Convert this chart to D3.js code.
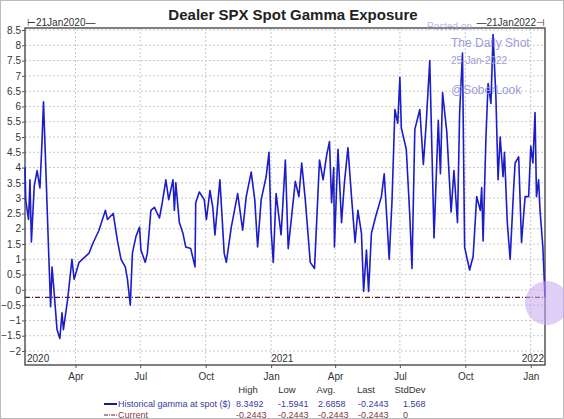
<!DOCTYPE html>
<html><head><meta charset="utf-8">
<script src="https://cdn.jsdelivr.net/npm/d3@7"></script>
<style>body{margin:0;background:#fff}svg{font-family:Arial,"Liberation Sans",sans-serif}</style>
</head><body>
<svg id="c" width="564" height="419"></svg>
<script>
const startDate = "2020-01-21";
const dayOffsets = [0,1,5,7,9,13,17,21,24,26,29,33,36,38,41,45,49,52,54,60,66,69,76,90,95,104,113,116,124,130,135,141,144,148,151,156,161,163,169,172,177,182,189,193,198,202,208,210,212,217,222,226,233,239,240,245,
252,255,260,264,267,274,280,283,290,299,306,311,318,323,327,332,339,343,346,349,353,360,366,370,380,385,389,394,401,407,414,419,424,428,431,434,435,440,445,449,454,459,464,468,473,476,480,483,487,493,501,505,
512,516,520,524,527,529,536,541,544,548,555,560,564,569,575,581,584,587,593,599,603,608,611,615,618,625,630,635,640,642,644,648,651,655,658,662,665,668,672,674,678,682,687,689,694,698,703,708,711,714,717,719,722,724,728,731];
const gammaValues = [4.0,2.94,2.3,3.6,1.57,3.4,3.9,3.33,4.9,6.15,4.15,1.4,-0.55,0.75,-0.1,-1.3,-1.59,-0.75,-1.3,-0.3,1.0,0.35,0.9,1.2,1.5,1.95,2.6,2.3,2.5,1.6,1.0,0.75,0.35,-0.5,1.2,1.75,2.05,1.3,0.9,1.2,2.6,2.7,2.35,2.85,3.6,2.95,3.6,2.6,3.5,2.2,1.85,1.4,1.35,0.75,2.85,3.2,
2.95,2.3,3.25,2.7,1.8,3.6,1.2,0.9,2.05,3.15,1.95,3.05,3.85,2.95,1.4,2.95,3.7,4.5,1.95,0.9,3.15,1.8,4.25,1.35,3.55,3.05,4.15,2.95,0.9,0.7,4.25,3.6,4.4,4.85,2.85,4.0,1.4,4.6,2.2,3.5,4.65,3.05,1.55,2.6,1.85,-0.05,1.3,-0.05,1.85,2.4,3.05,3.8,
1.0,2.95,5.9,5.45,6.95,5.3,4.6,2.4,0.7,5.25,5.9,4.1,5.45,7.5,1.7,5.55,3.8,6.45,5.15,2.55,3.9,2.2,5.8,7.75,1.4,0.65,1.1,3.05,2.6,3.35,1.6,5.0,6.75,6.1,8.35,6.3,3.6,5.0,3.7,4.5,2.2,1.0,3.35,4.15,4.35,1.55,3.05,3.05,4.7,4.15,5.8,3.05,3.6,2.6,1.4,-0.2443];
const currentValue = -0.2443;
const yTicks = [8.5,8,7.5,7,6.5,6,5.5,5,4.5,4,3.5,3,2.5,2,1.5,1,0.5,0,-0.5,-1,-1.5,-2];
const monthTicks = ["2020-04-01","2020-07-01","2020-10-01","2021-01-01","2021-04-01","2021-07-01","2021-10-01","2022-01-01"];
const monthLabels = ["Apr","Jul","Oct","Jan","Apr","Jul","Oct","Jan"];
const statHeaders = ["High","Low","Avg.","Last","StdDev"];
const statsHist = ["8.3492","-1.5941","2.6858","-0.2443","1.568"];
const statsCur = ["-0.2443","-0.2443","-0.2443","-0.2443","0"];

const svg = d3.select("#c");
const s0 = d3.isoParse(startDate);
const data = dayOffsets.map((d,i)=>({date:d3.timeDay.offset(s0,d), v:gammaValues[i]}));
const L=25,R=545,T=28,B=365;
const x = d3.scaleTime().domain([s0, d3.timeDay.offset(s0,731)]).range([L,R]);
const y = d3.scaleLinear().domain([-2,8.5]).range([351,30]);

svg.append("rect").attr("x",0.5).attr("y",0.5).attr("width",563).attr("height",418).attr("fill","#fff").attr("stroke","#bbb");
const mt = monthTicks.map(d3.isoParse);
svg.append("g").selectAll("line").data(mt).join("line")
  .attr("x1",d=>x(d)).attr("x2",d=>x(d)).attr("y1",T).attr("y2",B)
  .attr("stroke","#c8c8c8").attr("stroke-dasharray","2,2");
svg.append("g").selectAll("line").data(yTicks).join("line")
  .attr("x1",L).attr("x2",R).attr("y1",d=>y(d)).attr("y2",d=>y(d))
  .attr("stroke","#c8c8c8").attr("stroke-dasharray","2,2");
svg.append("rect").attr("x",L).attr("y",T).attr("width",R-L).attr("height",B-T).attr("fill","none").attr("stroke","#555").attr("stroke-width",1.5);

const ya = svg.append("g").attr("transform",`translate(${L},0)`).call(d3.axisLeft(y).tickValues(yTicks).tickSize(3).tickFormat(d3.format("")));
ya.select(".domain").remove();
ya.selectAll("text").attr("font-size",10).attr("fill","#333").attr("dx",2);
ya.selectAll("line").attr("stroke","#555");
const xa = svg.append("g").attr("transform",`translate(0,${B})`).call(d3.axisBottom(x).tickValues(mt).tickSize(3).tickFormat((d,i)=>monthLabels[i]));
xa.select(".domain").remove();
xa.selectAll("text").attr("font-size",10).attr("fill","#333").attr("dy","0.9em");
xa.selectAll("line").attr("stroke","#555");
svg.append("text").attr("x",L+2).attr("y",B-3).attr("font-size",10).attr("fill","#333").text("2020");
svg.append("text").attr("x",x(d3.isoParse("2021-01-01"))).attr("y",B-3).attr("font-size",10).attr("fill","#333").text("2021");
svg.append("text").attr("x",R-1).attr("y",B-3).attr("text-anchor","end").attr("font-size",10).attr("fill","#333").text("2022");

svg.append("line").attr("x1",L).attr("x2",R).attr("y1",y(currentValue)).attr("y2",y(currentValue))
  .attr("stroke","#5a2020").attr("stroke-width",1.2).attr("stroke-dasharray","5,2,1,2");
svg.append("path").datum(data).attr("fill","none").attr("stroke","#1c1cc8").attr("stroke-width",1.6).attr("stroke-linejoin","round")
  .attr("d",d3.line().x(d=>x(d.date)).y(d=>y(d.v)));

svg.append("text").attr("x",293).attr("y",20).attr("text-anchor","middle").attr("font-size",15).attr("font-weight","bold").attr("fill","#222").text("Dealer SPX Spot Gamma Exposure");
svg.append("text").attr("x",27).attr("y",26).attr("font-size",10).attr("fill","#333").text("⊢21Jan2020—");
svg.append("text").attr("x",545).attr("y",26).attr("text-anchor","end").attr("font-size",10).attr("fill","#333").text("—21Jan2022⊣");

const wm = svg.append("g").attr("fill","#9c9cd8");
wm.append("text").attr("x",427).attr("y",30).attr("font-size",10).attr("opacity",0.7).text("Posted on");
wm.append("text").attr("x",451).attr("y",47).attr("font-size",12).text("The Daily Shot");
wm.append("text").attr("x",451).attr("y",64).attr("font-size",10).text("25-Jan-2022");
wm.append("text").attr("x",451).attr("y",94).attr("font-size",12).text("@SoberLook");
svg.append("circle").attr("cx",547).attr("cy",303).attr("r",22).attr("fill","#c9a6ee").attr("opacity",0.55);

const cols=[248,287,326,366,410];
statHeaders.forEach((h,i)=>svg.append("text").attr("x",cols[i]).attr("y",393).attr("text-anchor","middle").attr("font-size",9.5).attr("fill","#333").text(h));
svg.append("line").attr("x1",104).attr("x2",117).attr("y1",404).attr("y2",404).attr("stroke","#1a1a8a").attr("stroke-width",2);
svg.append("text").attr("x",118).attr("y",407).attr("font-size",9).attr("fill","#3a3aa0").text("Historical gamma at spot ($)");
svg.append("line").attr("x1",104).attr("x2",117).attr("y1",415).attr("y2",415).attr("stroke","#5a2020").attr("stroke-width",1.2).attr("stroke-dasharray","4,1,1,1");
svg.append("text").attr("x",118).attr("y",418).attr("font-size",9).attr("fill","#8a3a3a").text("Current");
const sx=[236,278,318,358,403];
statsHist.forEach((v,i)=>svg.append("text").attr("x",sx[i]).attr("y",407).attr("font-size",9).attr("fill","#3a3aa0").text(v));
statsCur.forEach((v,i)=>svg.append("text").attr("x",sx[i]).attr("y",418).attr("font-size",9).attr("fill","#8a3a3a").text(v));
</script>
</body></html>
